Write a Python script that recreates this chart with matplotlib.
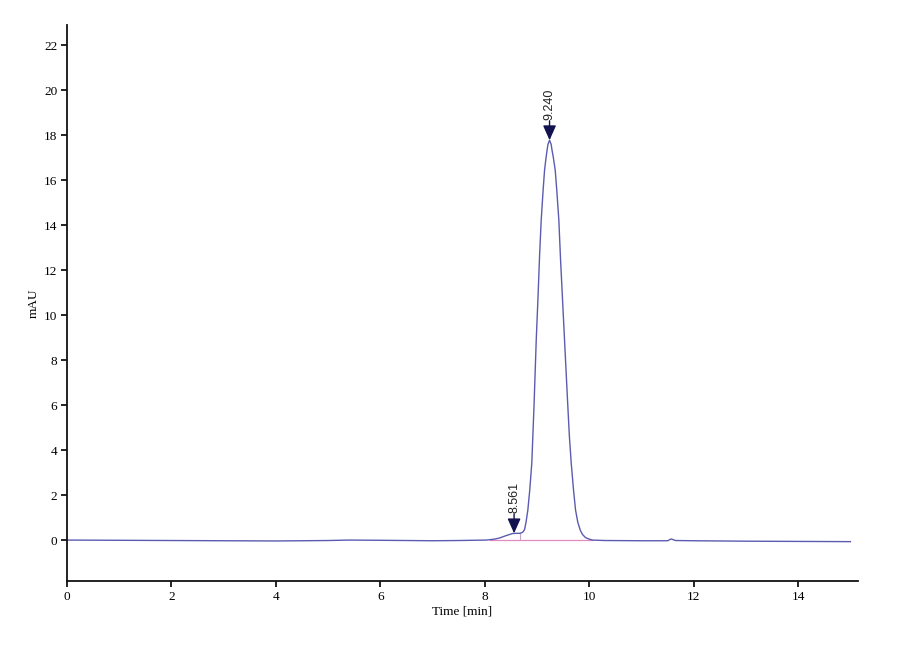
import numpy as np
import matplotlib
matplotlib.use("Agg")
import matplotlib.pyplot as plt

# chromatogram trace (time in min, signal in mAU)
time_min = [0.0, 1.0, 2.0, 3.0, 4.0, 5.0, 5.4, 6.0, 7.0, 7.5, 8.03,
            8.18, 8.28, 8.41, 8.53, 8.60, 8.665, 8.70, 8.73, 8.761, 8.79,
            8.824, 8.86, 8.900, 8.943, 8.985, 9.019, 9.05, 9.080, 9.115,
            9.144, 9.17, 9.19, 9.21, 9.24, 9.27, 9.29, 9.31, 9.349, 9.38,
            9.418, 9.45, 9.489, 9.527, 9.584, 9.62, 9.655, 9.70, 9.738,
            9.78, 9.828, 9.87, 9.929, 10.0, 10.063,
            10.3, 11.0, 11.5, 11.57, 11.65, 12.0, 13.0, 14.0, 15.0]
signal_mau = [0.0, -0.01, -0.02, -0.03, -0.04, -0.02, 0.0, -0.01, -0.03, -0.02, 0.0,
              0.04, 0.09, 0.20, 0.29, 0.30, 0.30, 0.32, 0.36, 0.46, 0.8,
              1.33, 2.2, 3.42, 6.0, 8.89, 10.8, 12.7, 14.22, 15.5,
              16.44, 16.95, 17.3, 17.6, 17.78, 17.6, 17.3, 17.05, 16.44, 15.5,
              14.22, 12.5, 10.67, 8.89, 6.22, 4.6, 3.42, 2.2, 1.33,
              0.8, 0.44, 0.25, 0.11, 0.04, 0.0,
              -0.02, -0.03, -0.03, 0.05, -0.02, -0.03, -0.05, -0.06, -0.07]

# integration baseline and peak marks
base_t = [8.10, 10.06]
base_y = [0.0, 0.0]
drop_t = 8.665
drop_y = 0.30
peak_t = [8.561, 9.240]
peak_h = [0.30, 17.78]
peak_lbl = ["8.561", "9.240"]

fig = plt.figure(figsize=(9, 6.6), dpi=100)
ax = fig.add_axes([0.0744, 0.1197, 0.8786, 0.8423])

ax.plot(base_t, base_y, color="#e58ac0", lw=0.9, zorder=1)
ax.plot([drop_t, drop_t], [0, drop_y], color="#c9a0c8", lw=0.8, zorder=1)
ax.plot(time_min, signal_mau, color="#5b5bb0", lw=1.0, zorder=2)

for t, h, s in zip(peak_t, peak_h, peak_lbl):
    ax.annotate("", xy=(t, h), xytext=(0, 14), textcoords="offset points",
                xycoords="data",
                arrowprops=dict(arrowstyle="-|>,head_width=0.4,head_length=0.9",
                                color="#12124e", lw=1.0, shrinkA=0, shrinkB=0))
    ax.annotate(s, xy=(t, h), xytext=(0, 14.5), textcoords="offset points",
                rotation=90, ha="center", va="bottom", fontsize=9,
                family="Liberation Sans", color="#222222")

ax.set_xlim(0, 15.14)
ax.set_ylim(-1.82, 22.9)
ax.set_xticks(np.arange(0, 15, 2))
ax.set_yticks(np.arange(0, 23, 2))

for side in ["top", "right"]:
    ax.spines[side].set_visible(False)
for side in ["left", "bottom"]:
    ax.spines[side].set_linewidth(1.3)
    ax.spines[side].set_color("#111111")

ax.tick_params(direction="out", length=4, width=1.2, labelsize=9.5, pad=3)
for lab in ax.get_xticklabels() + ax.get_yticklabels():
    lab.set_family("Liberation Serif")

ax.set_xlabel("Time [min]", family="Liberation Serif", fontsize=9.5, labelpad=2)
ax.set_ylabel("mAU", family="Liberation Serif", fontsize=9.5, labelpad=3)

plt.savefig("out.png", dpi=100)
